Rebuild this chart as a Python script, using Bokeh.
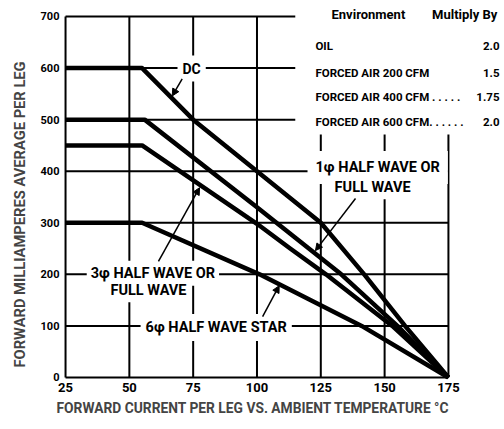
from bokeh.plotting import figure
from bokeh.models import Label, Arrow, NormalHead, BoxAnnotation, FixedTicker, Range1d, Title
from bokeh.embed import file_html
from bokeh.resources import INLINE

# ---- data ----
temp_ticks = [25, 50, 75, 100, 125, 150, 175]
ma_ticks = [0, 100, 200, 300, 400, 500, 600, 700]

dc_temp = [25, 55, 75, 100, 125, 142, 158, 175]
dc_ma = [600, 600, 500, 400, 300, 200, 100, 0]

one_phase_temp = [25, 56, 100, 133, 155, 175]
one_phase_ma = [500, 500, 330, 200, 100, 0]

three_phase_temp = [25, 55, 100, 113, 127, 153, 175]
three_phase_ma = [450, 450, 298, 250, 200, 100, 0]

six_phase_temp = [25, 55, 101, 141, 175]
six_phase_ma = [300, 300, 200, 100, 0]

table_env = ["OIL", "FORCED AIR 200 CFM", "FORCED AIR 400 CFM . . . . .", "FORCED AIR 600 CFM. . . . . ."]
table_mult = ["2.0", "1.5", "1.75", "2.0"]

FONT = "Roboto"

p = figure(width=500, height=425, output_backend="svg", toolbar_location=None,
           x_range=Range1d(24.2, 195.4), y_range=Range1d(-3.9, 731),
           min_border_left=63, min_border_right=0, min_border_top=0, min_border_bottom=46)
p.outline_line_color = None
p.background_fill_color = "white"
p.xgrid.visible = False
p.ygrid.visible = False

for ax in (p.xaxis, p.yaxis):
    ax.axis_line_color = None
    ax.major_tick_line_color = None
    ax.minor_tick_line_color = None
    ax.major_tick_out = 0
    ax.major_tick_in = 0
    ax.minor_tick_out = 0
    ax.minor_tick_in = 0
    ax.major_label_text_font = FONT
    ax.major_label_text_font_style = "bold"
    ax.major_label_text_color = "black"

p.xaxis.major_label_text_font_size = "13px"
p.yaxis.major_label_text_font_size = "11px"
p.xaxis.ticker = FixedTicker(ticks=temp_ticks)
p.yaxis.ticker = FixedTicker(ticks=ma_ticks)
p.xaxis.major_label_standoff = 3
p.yaxis.major_label_standoff = 4

p.add_layout(Title(text="FORWARD CURRENT PER LEG VS. AMBIENT TEMPERATURE °C", align="left",
                   offset=-7, text_font=FONT, text_font_style="bold", text_font_size="13.8px",
                   standoff=7), "below")
p.add_layout(Title(text="FORWARD MILLIAMPERES AVERAGE PER LEG", align="left",
                   offset=12, text_font=FONT, text_font_style="bold", text_font_size="14.7px",
                   standoff=17), "left")

# grid drawn from the tick lists
p.segment(x0=temp_ticks, y0=[ma_ticks[0]] * len(temp_ticks),
          x1=temp_ticks, y1=[ma_ticks[-1]] * len(temp_ticks), line_color="black", line_width=2)
p.segment(x0=[temp_ticks[0]] * len(ma_ticks), y0=ma_ticks,
          x1=[temp_ticks[-1]] * len(ma_ticks), y1=ma_ticks, line_color="black", line_width=2)

# blank region (table area) over the grid
p.add_layout(BoxAnnotation(left=115, right=200, bottom=471, top=740,
                           fill_color="white", fill_alpha=1, line_color=None))

for xs, ys in [(dc_temp, dc_ma), (one_phase_temp, one_phase_ma),
               (three_phase_temp, three_phase_ma), (six_phase_temp, six_phase_ma)]:
    p.line(xs, ys, line_color="black", line_width=4.5, line_join="round")

def lab(x, y, text, size="13px", align="left", style="bold", pad=2):
    p.add_layout(Label(x=x, y=y, text=text, text_font=FONT, text_font_style=style,
                       text_font_size=size, text_align=align, text_baseline="middle",
                       text_color="black", background_fill_color="white",
                       background_fill_alpha=1, padding=pad))

lab(74.4, 599, "DC", size="14px", align="center", pad=5)
lab(119.8, 407, "1φ HALF WAVE OR", size="14.5px", pad=8)
lab(145.3, 368, "FULL WAVE", size="14.5px", align="center", pad=3)
lab(33.3, 202, "3φ HALF WAVE OR", size="14.5px", pad=4)
lab(57.5, 168, "FULL WAVE", size="14.5px", align="center", pad=3)
lab(54.4, 97, "6φ HALF WAVE STAR", size="14.5px", pad=5)

# table
lab(129.2, 704, "Environment", size="13px", pad=0)
lab(168.6, 704, "Multiply By", size="13px", pad=0)
row_y = [642, 591, 543, 496]
for ry, env, mult in zip(row_y, table_env, table_mult):
    lab(122.9, ry, env, size="11.5px", pad=0)
    lab(195.0, ry, mult, size="11.5px", align="right", pad=0)

# arrows
arrows = [((70.7, 579), (66.8, 546)),
          ((138.6, 347), (122.9, 246)),
          ((61.4, 225), (77.5, 368)),
          ((102.2, 118), (108.7, 178))]
for (x0, y0), (x1, y1) in arrows:
    p.add_layout(Arrow(x_start=x0, y_start=y0, x_end=x1, y_end=y1, line_width=1.5,
                       line_color="black",
                       end=NormalHead(size=7, fill_color="black", line_color="black")))

open("out.html", "w").write(file_html(p, INLINE))
